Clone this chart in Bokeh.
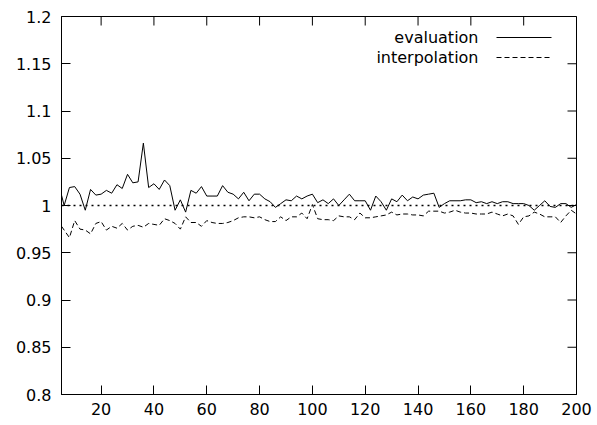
from bokeh.plotting import figure
from bokeh.models import Range1d, FixedTicker, Span, Label, Arrow
from bokeh.embed import file_html
from bokeh.resources import INLINE

# ---- data ----
x_values = [5, 6, 8, 10, 12, 14, 16, 18, 20, 22,
            24, 26, 28, 30, 32, 34, 36, 38, 40, 42,
            44, 46, 48, 50, 52, 54, 56, 58, 60, 62,
            64, 66, 68, 70, 72, 74, 76, 78, 80, 82,
            84, 86, 88, 90, 92, 94, 96, 98, 100, 102,
            104, 106, 108, 110, 112, 114, 116, 118, 120, 122,
            124, 126, 128, 130, 132, 134, 136, 138, 140, 142,
            144, 146, 148, 150, 152, 154, 156, 158, 160, 162,
            164, 166, 168, 170, 172, 174, 176, 178, 180, 182,
            184, 186, 188, 190, 192, 194, 196, 198, 200]

evaluation = [1.011, 1.000, 1.019, 1.020, 1.012, 0.995, 1.017, 1.011, 1.012, 1.016,
              1.013, 1.022, 1.018, 1.033, 1.024, 1.025, 1.066, 1.019, 1.023, 1.017,
              1.027, 1.021, 0.995, 1.006, 0.993, 1.016, 1.013, 1.020, 1.010, 1.010,
              1.010, 1.021, 1.014, 1.012, 1.007, 1.014, 1.005, 1.012, 1.012, 1.007,
              1.004, 0.998, 1.002, 1.006, 1.005, 1.010, 1.007, 1.010, 1.012, 1.003,
              1.006, 1.002, 1.007, 1.000, 1.006, 1.012, 1.005, 1.005, 1.005, 0.995,
              1.010, 1.004, 0.995, 1.007, 1.004, 1.011, 1.005, 1.009, 1.007, 1.011,
              1.012, 1.013, 0.998, 1.002, 1.005, 1.005, 1.005, 1.006, 1.006, 1.003,
              1.004, 1.002, 1.004, 1.002, 1.004, 1.004, 1.002, 1.002, 1.002, 1.000,
              0.995, 1.000, 1.005, 0.999, 0.998, 1.002, 1.002, 0.998, 1.001]

interpolation = [0.978, 0.974, 0.966, 0.984, 0.975, 0.974, 0.970, 0.981, 0.983, 0.974,
                 0.978, 0.976, 0.981, 0.974, 0.978, 0.979, 0.977, 0.981, 0.980, 0.979,
                 0.986, 0.984, 0.981, 0.975, 0.988, 0.982, 0.982, 0.978, 0.984, 0.982,
                 0.981, 0.981, 0.982, 0.984, 0.987, 0.988, 0.988, 0.987, 0.988, 0.985,
                 0.983, 0.983, 0.988, 0.984, 0.988, 0.988, 0.992, 0.986, 1.001, 0.986,
                 0.985, 0.985, 0.984, 0.989, 0.988, 0.988, 0.985, 0.992, 0.987, 0.987,
                 0.988, 0.989, 0.990, 0.993, 0.990, 0.991, 0.991, 0.990, 0.990, 0.989,
                 0.994, 0.994, 0.994, 0.992, 0.993, 0.995, 0.993, 0.992, 0.992, 0.991,
                 0.991, 0.991, 0.993, 0.991, 0.989, 0.991, 0.989, 0.980, 0.988, 0.989,
                 0.993, 0.991, 0.988, 0.988, 0.988, 0.982, 0.989, 0.995, 0.991]

reference_level = 1.0
series_names = ["evaluation", "interpolation"]

x_ticks = [20, 40, 60, 80, 100, 120, 140, 160, 180, 200]
y_ticks = [0.8, 0.85, 0.9, 0.95, 1.0, 1.05, 1.1, 1.15, 1.2]
y_tick_labels = ["0.8", "0.85", "0.9", "0.95", "1", "1.05", "1.1", "1.15", "1.2"]

FONT = "DejaVu Sans"
X_MIN, X_MAX = 5, 200
Y_MIN, Y_MAX = 0.8, 1.2

p = figure(width=597, height=425, output_backend="svg", toolbar_location=None,
           x_range=Range1d(X_MIN, X_MAX), y_range=Range1d(Y_MIN, Y_MAX),
           min_border_left=61, min_border_right=21, min_border_top=16, min_border_bottom=31)
p.xgrid.visible = False
p.ygrid.visible = False
p.outline_line_color = "black"
p.outline_line_width = 1
p.background_fill_color = "white"
p.border_fill_color = "white"

for ax, ticks in ((p.xaxis[0], x_ticks), (p.yaxis[0], y_ticks)):
    ax.ticker = FixedTicker(ticks=ticks)
    ax.major_tick_in = 9
    ax.major_tick_out = 0
    ax.minor_tick_line_color = None
    ax.major_tick_line_color = "black"
    ax.axis_line_color = "black"
    ax.major_label_text_color = "black"
    ax.major_label_text_font = FONT
    ax.major_label_text_font_size = "16px"

p.xaxis[0].major_label_standoff = 8
p.yaxis[0].major_label_standoff = 10
p.yaxis[0].major_label_overrides = {v: s for v, s in zip(y_ticks, y_tick_labels)}

# mirrored tick marks on the top and right frame edges (clipped to the frame -> inward half)
p.scatter(x_ticks, [Y_MAX] * len(x_ticks), marker="dash", angle=1.5707963, size=18,
          line_color="black", line_width=1)
p.scatter([X_MAX] * len(y_ticks), y_ticks, marker="dash", size=18,
          line_color="black", line_width=1)

# reference line at 1 (dotted)
p.add_layout(Span(location=reference_level, dimension="width", line_color="black",
                  line_width=1.4, line_dash="2 4"))

p.line(x_values, evaluation, line_color="black", line_width=1)
p.line(x_values, interpolation, line_color="black", line_width=1, line_dash="5 3")

# gnuplot-style key: label right-aligned, sample to the right
key_dashes = ["solid", "5 3"]
for i, (name, dash) in enumerate(zip(series_names, key_dashes)):
    yy = 357 - 20 * i
    p.add_layout(Label(x=417, y=yy, x_units="screen", y_units="screen", text=name,
                       text_align="right", text_baseline="middle",
                       text_font=FONT, text_font_size="16px", text_color="black"))
    p.add_layout(Arrow(end=None, x_start=435, y_start=yy, x_end=490, y_end=yy,
                       start_units="screen", end_units="screen",
                       line_color="black", line_width=1, line_dash=dash))

open("out.html", "w").write(file_html(p, INLINE))
